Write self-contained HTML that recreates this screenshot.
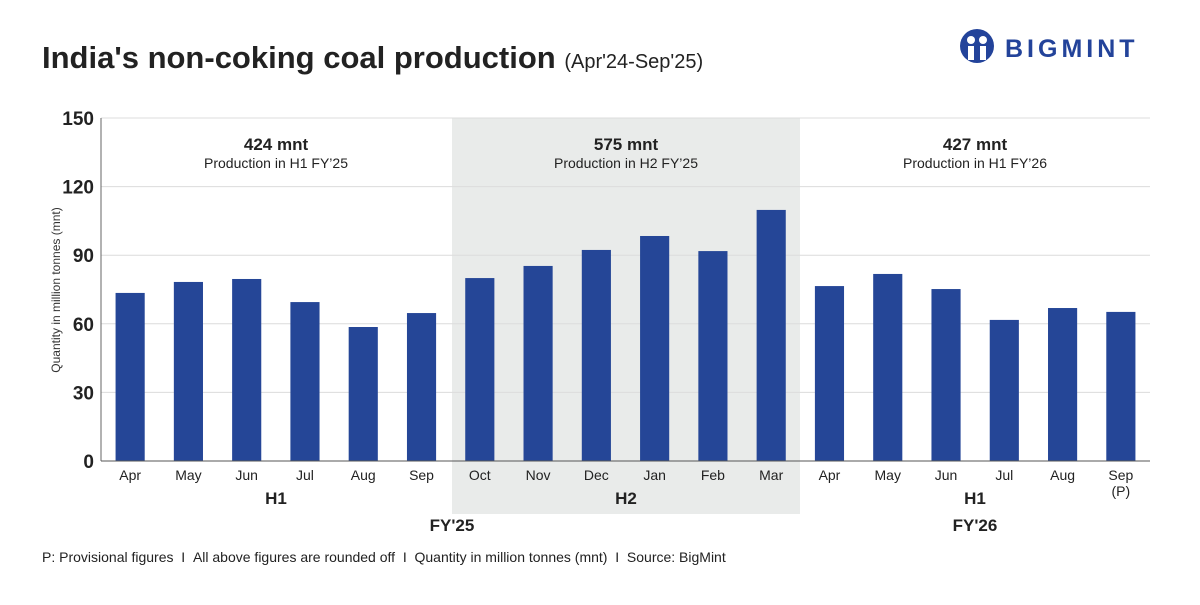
<!DOCTYPE html>
<html><head><meta charset="utf-8"><style>
body{margin:0;background:#fff;}
svg text{font-family:"Liberation Sans",Arial,sans-serif;}
</style></head><body>
<svg width="1200" height="600">
<text x="42" y="68" font-size="31" font-weight="bold" fill="#222">India's non-coking coal production <tspan font-size="20" font-weight="normal">(Apr'24-Sep'25)</tspan></text>
<g>
<circle cx="977" cy="46" r="17" fill="#23439a"/>
<circle cx="971" cy="40" r="4" fill="#fff"/><circle cx="983" cy="40" r="4" fill="#fff"/>
<rect x="968" y="46" width="6" height="14" fill="#fff"/><rect x="980" y="46" width="6" height="14" fill="#fff"/>
<text x="1005" y="57" font-size="25" font-weight="bold" fill="#23439a" letter-spacing="4">BIGMINT</text>
</g>
<rect x="452" y="118" width="348" height="396" fill="#e9ebea"/>
<g id="grid"></g>
<g id="bars"></g>
<g id="labels"></g>
<line x1="101" y1="118" x2="101" y2="461" stroke="#666"/>
<line x1="101" y1="461" x2="1150" y2="461" stroke="#555"/>
<text x="60" y="290" font-size="12" fill="#333" transform="rotate(-90 60 290)" text-anchor="middle">Quantity in million tonnes (mnt)</text>
<g font-weight="bold" fill="#222" text-anchor="middle" font-size="17">
<text x="276" y="150">424 mnt</text>
<text x="626" y="150">575 mnt</text>
<text x="975" y="150">427 mnt</text>
<text x="276" y="504">H1</text>
<text x="626" y="504">H2</text>
<text x="975" y="504">H1</text>
<text x="452" y="531">FY'25</text>
<text x="975" y="531">FY'26</text>
</g>
<g fill="#222" text-anchor="middle" font-size="14">
<text x="276" y="168">Production in H1 FY’25</text>
<text x="626" y="168">Production in H2 FY’25</text>
<text x="975" y="168">Production in H1 FY’26</text>
</g>
<text x="42" y="562" font-size="14" fill="#222">P: Provisional figures&#160;&#160;I&#160;&#160;All above figures are rounded off&#160;&#160;I&#160;&#160;Quantity in million tonnes (mnt)&#160;&#160;I&#160;&#160;Source: BigMint</text>
</svg>
<script>
const categories=["Apr","May","Jun","Jul","Aug","Sep","Oct","Nov","Dec","Jan","Feb","Mar","Apr","May","Jun","Jul","Aug","Sep"];
const values=[73.5,78.3,79.6,69.5,58.6,64.7,80,85.3,92.3,98.4,91.8,109.8,76.5,81.8,75.2,61.7,66.9,65.2];
const ticks=[0,30,60,90,120,150];
const NS="http://www.w3.org/2000/svg";
const x0=101,x1=1150,y0=461,y1=118,ymax=150;
const band=(x1-x0)/categories.length;
const yS=v=>y0-(v/ymax)*(y0-y1);
const xC=i=>x0+band*(i+0.5);
function mk(t,a,p){const e=document.createElementNS(NS,t);for(const k in a)e.setAttribute(k,a[k]);p.appendChild(e);return e;}
const g=document.getElementById('grid');
ticks.forEach(t=>{
 if(t>0){const l=mk('line',{x1:x0,x2:x1,y1:yS(t),y2:yS(t),stroke:'#dcdcdc'},g);
 
 }
 const tx=mk('text',{x:94,y:yS(t)+7,'text-anchor':'end','font-size':19,'font-weight':'bold',fill:'#222'},g);
 tx.textContent=t;
 
 
});
const b=document.getElementById('bars'),lb=document.getElementById('labels');
values.forEach((v,i)=>{
 const w=band*0.5;
 const r=mk('rect',{x:xC(i)-w/2,y:yS(v),width:w,height:y0-yS(v),fill:'#254697'},b);
 
 
 const t=mk('text',{x:xC(i),y:480,'text-anchor':'middle','font-size':14,fill:'#222'},lb);
 t.textContent=categories[i];
 
 
});
const p=mk('text',{x:xC(categories.length-1),y:496,'text-anchor':'middle','font-size':14,fill:'#222'},lb);
p.textContent='(P)';


</script>
</body></html>
